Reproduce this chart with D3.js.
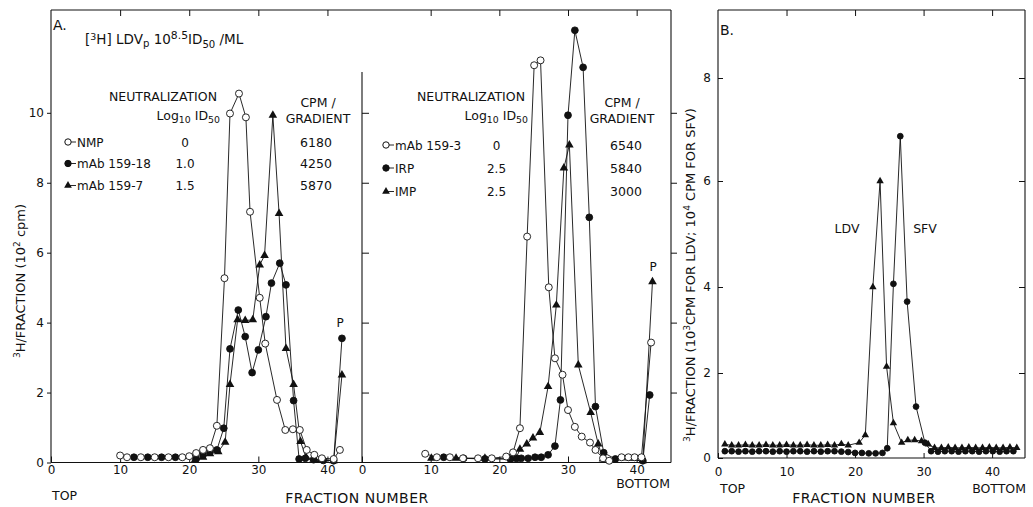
<!DOCTYPE html>
<html>
<head>
<meta charset="utf-8">
<script src="https://cdn.jsdelivr.net/npm/d3@7"></script>
<style>
  body { margin: 0; background: #fff; }
  svg text { font-family: "DejaVu Sans", sans-serif; fill: #111; }
  .axis .domain { display: none; }
  .axis line { stroke: #111; }
</style>
</head>
<body>
<svg width="1033" height="507"></svg>
<script>
// ---- panel A, left gradient ----
const nmpX = [10, 11, 13, 15, 17, 19, 20, 21, 22, 23, 24, 25.1, 25.9, 27.2, 28.2, 28.8, 30.2, 31.0, 32.7, 33.9, 35.0, 36.0, 37.0, 38.1, 39.2, 40.9, 41.8];
const nmpY = [0.2, 0.15, 0.15, 0.15, 0.15, 0.15, 0.18, 0.27, 0.36, 0.41, 1.05, 5.27, 9.98, 10.55, 9.87, 7.17, 4.71, 3.4, 1.79, 0.93, 0.95, 0.93, 0.36, 0.22, 0.12, 0.1, 0.36];
const m18X = [12, 14, 16, 18, 21, 22, 23, 24, 25, 25.9, 27.1, 28.1, 29.1, 30.0, 31.1, 31.9, 33.1, 34.0, 35.1, 35.9, 36.8, 38.0, 39.4, 40.9, 42.1];
const m18Y = [0.15, 0.15, 0.15, 0.15, 0.1, 0.22, 0.31, 0.36, 0.98, 3.25, 4.36, 3.6, 2.57, 3.22, 4.17, 5.13, 5.7, 5.08, 1.77, 0.1, 0.12, 0.08, 0.06, 0.05, 3.55];
const m7X = [20.8, 22, 23, 24.2, 25.2, 25.9, 27.0, 28.1, 29.2, 30.2, 30.9, 32.1, 33.0, 34.0, 35.1, 36.1, 36.9, 38.0, 39.0, 40.9, 42.1];
const m7Y = [0.06, 0.15, 0.25, 0.31, 0.58, 2.23, 4.08, 4.06, 4.08, 5.65, 5.92, 9.93, 7.12, 3.26, 2.23, 0.6, 0.15, 0.1, 0.08, 0.05, 2.5];

// ---- panel A, right gradient ----
const m3X = [9.2, 10.9, 12.8, 14.7, 16.9, 18.9, 21.0, 22.0, 23.0, 24.05, 25.07, 26.0, 27.2, 28.1, 29.2, 30.0, 31.0, 32.0, 33.2, 34.0, 35.1, 36.0, 37.8, 38.8, 39.7, 40.7, 42.1];
const m3Y = [0.25, 0.15, 0.15, 0.12, 0.12, 0.12, 0.17, 0.29, 0.98, 6.46, 11.36, 11.5, 5.01, 2.98, 2.51, 1.5, 1.02, 0.74, 0.57, 0.36, 0.12, 0.05, 0.15, 0.15, 0.15, 0.15, 3.43];
const irpX = [11.9, 14.8, 17.9, 21.6, 22.5, 23.2, 24.2, 25.2, 26.1, 27.1, 28.1, 28.9, 30.0, 31.0, 32.2, 33.1, 34.0, 35.2, 36.9, 40.9, 41.9];
const irpY = [0.15, 0.12, 0.1, 0.1, 0.12, 0.12, 0.12, 0.15, 0.15, 0.22, 0.47, 1.79, 9.93, 12.36, 11.3, 7.01, 1.6, 0.28, 0.1, 0.05, 1.93];
const impX = [10.1, 13.7, 17.9, 22.4, 23.0, 24.0, 24.9, 25.9, 27.1, 28.3, 29.4, 30.2, 31.5, 33.3, 34.4, 35.1, 40.9, 42.3];
const impY = [0.12, 0.12, 0.12, 0.1, 0.38, 0.53, 0.7, 0.86, 2.17, 4.5, 8.42, 9.08, 2.79, 1.43, 0.53, 0.1, 0.05, 5.17];

// ---- panel B ----
const ldvX = [1, 2, 3, 4, 5, 6, 7, 8, 9, 10, 11, 12, 13, 14, 15, 16, 17, 18, 19,
  20.6, 21.5, 22.6, 23.65, 24.6, 25.6, 26.8, 27.7, 28.7, 29.7, 30.7,
  31.6, 32.6, 33.6, 34.6, 35.6, 36.6, 37.6, 38.6, 39.6, 40.6, 41.6, 42.6, 43.6];
const ldvY = [0.32, 0.3, 0.3, 0.31, 0.3, 0.3, 0.31, 0.3, 0.3, 0.31, 0.3, 0.3, 0.31, 0.3, 0.3, 0.31, 0.3, 0.33, 0.3,
  0.36, 0.54, 4.0, 6.0, 2.15, 0.82, 0.36, 0.42, 0.42, 0.4, 0.32,
  0.24, 0.24, 0.25, 0.24, 0.24, 0.25, 0.24, 0.24, 0.25, 0.24, 0.24, 0.25, 0.24];
const sfvX = [1, 2, 3, 4, 5, 6, 7, 8, 9, 10, 11, 12, 13, 14, 15, 16, 17, 18, 19, 20, 21, 22, 23,
  24.0, 24.7, 25.6, 26.6, 27.6, 28.9, 30.2,
  31.1, 32.1, 33.1, 34.1, 35.1, 36.1, 37.1, 38.1, 39.1, 40.1, 41.1, 42.1, 43.1];
const sfvY = [0.16, 0.16, 0.15, 0.16, 0.15, 0.16, 0.16, 0.15, 0.16, 0.15, 0.16, 0.16, 0.15, 0.16, 0.15, 0.16, 0.16, 0.15, 0.14, 0.12, 0.12, 0.11, 0.11,
  0.12, 0.23, 4.06, 6.87, 3.66, 1.21, 0.36,
  0.16, 0.15, 0.16, 0.16, 0.15, 0.16, 0.16, 0.15, 0.16, 0.16, 0.15, 0.16, 0.16];

const xTicks = [0, 10, 20, 30, 40];
const yTicksA = [0, 2, 4, 6, 8, 10];
const yTicksB = [0, 2, 4, 6, 8];

const legendLeft = [
  {kind: 'open', name: 'NMP', log: '0', cpm: '6180'},
  {kind: 'fill', name: 'mAb 159-18', log: '1.0', cpm: '4250'},
  {kind: 'tri', name: 'mAb 159-7', log: '1.5', cpm: '5870'}
];
const legendRight = [
  {kind: 'open', name: ' mAb 159-3', log: '0', cpm: '6540'},
  {kind: 'fill', name: 'IRP', log: '2.5', cpm: '5840'},
  {kind: 'tri', name: 'IMP', log: '2.5', cpm: '3000'}
];

const svg = d3.select('svg');

const xA1 = d3.scaleLinear().domain([0, 45]).range([51, 362]);
const xA2 = d3.scaleLinear().domain([0, 45]).range([362, 671]);
const yA = d3.scaleLinear().domain([0, 12.94]).range([462.5, 10]);
const xB = d3.scaleLinear().domain([0, 44.8]).range([718, 1025]);
// hand-drawn axis in B is uneven, so follow the printed ticks
const yB = d3.scaleLinear().domain([0, 2, 4, 6, 8, 9.32]).range([458, 373, 287, 181, 78, 10]);

const ink = '#111';
const line = (x1, y1, x2, y2) => svg.append('line')
  .attr('x1', x1).attr('y1', y1).attr('x2', x2).attr('y2', y2)
  .attr('stroke', ink).attr('stroke-width', 1.1);

// frames
line(xA1(0), yA(0), xA2(45), yA(0));
line(xA1(0), yA(12.94), xA2(45), yA(12.94));
line(xA1(0), yA(12.94), xA1(0), yA(0));
line(xA2(45), yA(12.94), xA2(45), yA(0));
line(xA2(0), 72, xA2(0), yA(0));
line(xB(0), yB(9.32), xB(44.8), yB(9.32));
line(xB(0), yB(0), xB(44.8), yB(0));
line(xB(0), yB(9.32), xB(0), yB(0));
line(xB(44.8), yB(9.32), xB(44.8), yB(0));

const fontAxis = g => g.selectAll('text').style('font-size', '12px').style('font-family', '"DejaVu Sans", sans-serif');

// bottom axes (inward ticks)
[xA1, xA2].forEach(x => {
  svg.append('g').attr('class', 'axis').attr('transform', `translate(0,${yA(0)})`)
    .call(d3.axisBottom(x).tickValues(xTicks).tickFormat(d3.format('d')).tickSizeInner(-6).tickSizeOuter(0).tickPadding(3))
    .call(fontAxis);
  svg.append('g').attr('class', 'axis').attr('transform', `translate(0,${yA(12.94)})`)
    .call(d3.axisTop(x).tickValues(xTicks.slice(1)).tickFormat('').tickSizeInner(-6).tickSizeOuter(0));
});
svg.append('g').attr('class', 'axis').attr('transform', `translate(0,${yB(0)})`)
  .call(d3.axisBottom(xB).tickValues(xTicks).tickFormat(d3.format('d')).tickSizeInner(-5).tickSizeOuter(0).tickPadding(9))
  .call(fontAxis);
svg.append('g').attr('class', 'axis').attr('transform', `translate(0,${yB(9.32)})`)
  .call(d3.axisTop(xB).tickValues(xTicks.slice(1)).tickFormat('').tickSizeInner(-6).tickSizeOuter(0));

// vertical axes
svg.append('g').attr('class', 'axis').attr('transform', `translate(${xA1(0)},0)`)
  .call(d3.axisLeft(yA).tickValues(yTicksA).tickSizeInner(4).tickSizeOuter(0).tickPadding(3))
  .call(fontAxis);
svg.append('g').attr('class', 'axis').attr('transform', `translate(${xA2(0)},0)`)
  .call(d3.axisRight(yA).tickValues(yTicksA.slice(1)).tickFormat('').tickSizeInner(7).tickSizeOuter(0));
svg.append('g').attr('class', 'axis').attr('transform', `translate(${xA2(45)},0)`)
  .call(d3.axisLeft(yA).tickValues(yTicksA.slice(1)).tickFormat('').tickSizeInner(-6).tickSizeOuter(0));
svg.append('g').attr('class', 'axis').attr('transform', `translate(${xB(0)},0)`)
  .call(d3.axisLeft(yB).tickValues(yTicksB).tickSizeInner(-5).tickSizeOuter(0).tickPadding(7))
  .call(fontAxis);
svg.append('g').attr('class', 'axis').attr('transform', `translate(${xB(44.8)},0)`)
  .call(d3.axisRight(yB).tickValues(yTicksB.slice(1)).tickFormat('').tickSizeInner(-6).tickSizeOuter(0));

// series
const lines = svg.append('g');
const marks = svg.append('g');
function series(x, y, xs, ys, kind, r) {
  const pts = xs.map((v, i) => [x(v), y(ys[i])]);
  lines.append('path').attr('d', d3.line()(pts))
    .attr('fill', 'none').attr('stroke', ink).attr('stroke-width', 0.9);
  const m = marks.append('g').selectAll(null).data(pts).enter();
  if (kind === 'tri') {
    m.append('path').attr('transform', d => `translate(${d[0]},${d[1]})`)
      .attr('d', d3.symbol(d3.symbolTriangle, r)).attr('fill', ink);
  } else {
    m.append('circle').attr('cx', d => d[0]).attr('cy', d => d[1]).attr('r', r)
      .attr('fill', kind === 'open' ? '#fff' : ink).attr('stroke', ink).attr('stroke-width', 0.9);
  }
}
series(xA1, yA, m7X, m7Y, 'tri', 32);
series(xA1, yA, m18X, m18Y, 'fill', 3.4);
series(xA1, yA, nmpX, nmpY, 'open', 3.5);
series(xA2, yA, impX, impY, 'tri', 32);
series(xA2, yA, irpX, irpY, 'fill', 3.4);
series(xA2, yA, m3X, m3Y, 'open', 3.5);
series(xB, yB, ldvX, ldvY, 'tri', 24);
series(xB, yB, sfvX, sfvY, 'fill', 2.9);

// text helpers
function txt(x, y, size, anchor) {
  return svg.append('text').attr('x', x).attr('y', y)
    .attr('text-anchor', anchor || 'start').style('font-size', size + 'px');
}
const sub = (t, s, dy) => t.append('tspan').attr('dy', dy).style('font-size', '0.75em').text(s);

// legends
function legend(x0, rows, rowY, logX, cpmX, neutEnd, cpmCx) {
  txt(neutEnd, 101, 12.5, 'end').text('NEUTRALIZATION');
  const l = txt(neutEnd + 3, 120, 12.5, 'end');
  l.append('tspan').text('Log');
  sub(l, '10', 3);
  l.append('tspan').attr('dy', -3).text(' ID');
  sub(l, '50', 3);
  txt(cpmCx, 107, 12.5, 'middle').text('CPM /');
  txt(cpmCx, 123, 12.5, 'middle').text('GRADIENT');
  rows.forEach((r, i) => {
    const y = rowY[i];
    line(x0, y, x0 + 8, y).attr('stroke-width', 0.9);
    if (r.kind === 'tri') {
      svg.append('path').attr('transform', `translate(${x0},${y})`)
        .attr('d', d3.symbol(d3.symbolTriangle, 26)).attr('fill', ink);
    } else {
      svg.append('circle').attr('cx', x0).attr('cy', y).attr('r', 3.2)
        .attr('fill', r.kind === 'open' ? '#fff' : ink).attr('stroke', ink);
    }
    txt(x0 + 9, y + 4.5, 12).text(r.name);
    txt(logX, y + 4.5, 12, 'middle').text(r.log);
    txt(cpmX, y + 4.5, 12.5, 'middle').text(r.cpm);
  });
}
legend(68, legendLeft, [142, 163.5, 185.5], 185, 316, 217, 318);
legend(386, legendRight, [145, 168, 191.5], 496.5, 626, 525, 622);

// headers
txt(53, 30, 14).text('A.');
txt(720, 35, 14).text('B.');
const h = txt(85, 44, 13.5);
h.append('tspan').text('[');
h.append('tspan').attr('dy', -4).style('font-size', '0.7em').text('3');
h.append('tspan').attr('dy', 4).text('H]  LDV');
sub(h, 'p', 3);
h.append('tspan').attr('dy', -3).text('  10');
h.append('tspan').attr('dy', -5).style('font-size', '0.8em').text('8.5');
h.append('tspan').attr('dy', 5).text('ID');
sub(h, '50', 4);
h.append('tspan').attr('dy', -4).text(' /ML');

txt(340, 327, 12, 'middle').text('P');
txt(653, 271, 12, 'middle').text('P');
txt(847, 233, 12.5, 'middle').text('LDV');
txt(925, 233, 12.5, 'middle').text('SFV');

// axis titles
txt(52, 500, 12.5).text('TOP');
txt(357, 503, 14, 'middle').style('letter-spacing', '0.5px').text('FRACTION NUMBER');
txt(670, 488, 12.5, 'end').text('BOTTOM');
txt(720, 493, 12.5).text('TOP');
txt(864, 503, 14, 'middle').style('letter-spacing', '0.5px').text('FRACTION NUMBER');
txt(1026, 493, 12.5, 'end').text('BOTTOM');

const ya = svg.append('text').attr('transform', 'translate(25,281) rotate(-90)')
  .attr('text-anchor', 'middle').style('font-size', '13px');
ya.append('tspan').attr('dy', -5).style('font-size', '0.7em').text('3');
ya.append('tspan').attr('dy', 5).text('H/FRACTION (10');
ya.append('tspan').attr('dy', -5).style('font-size', '0.7em').text('2');
ya.append('tspan').attr('dy', 5).text(' cpm)');

const yb = svg.append('text').attr('transform', 'translate(695,275) rotate(-90)')
  .attr('text-anchor', 'middle').style('font-size', '13px');
yb.append('tspan').attr('dy', -5).style('font-size', '0.7em').text('3');
yb.append('tspan').attr('dy', 5).text('H/FRACTION (10');
yb.append('tspan').attr('dy', -5).style('font-size', '0.7em').text('3');
yb.append('tspan').attr('dy', 5).text('CPM FOR LDV; 10');
yb.append('tspan').attr('dy', -5).style('font-size', '0.7em').text('4');
yb.append('tspan').attr('dy', 5).text(' CPM FOR SFV)');
</script>
</body>
</html>
